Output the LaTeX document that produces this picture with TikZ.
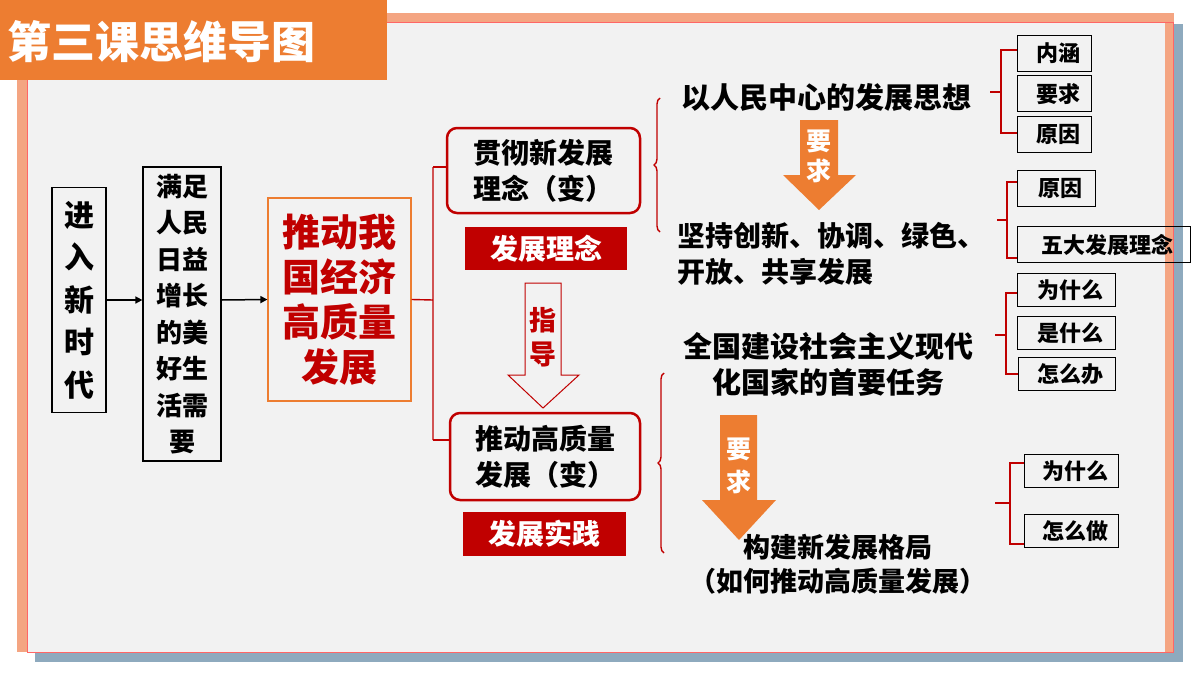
\documentclass[tikz,border=0pt]{standalone}
\usepackage{fontspec}
\setmainfont{Noto Sans CJK SC}
\usetikzlibrary{arrows.meta,decorations.pathreplacing}
\definecolor{org}{HTML}{ED7D31}
\definecolor{dred}{HTML}{C00000}
\definecolor{salm}{HTML}{F4A582}
\definecolor{bgr}{HTML}{F2F2F2}
\definecolor{shad}{HTML}{8EAABE}
\tikzset{
 fs/.style={font=\fontsize{#1}{#1}\selectfont\bfseries},
 blk/.style={draw=black,line width=1.2pt,fill=bgr,inner sep=0pt},
 sbox/.style={draw=black,line width=1.2pt,anchor=north west,inner sep=0pt,fs=22,align=left},
 rbox/.style={draw=dred,line width=2.5pt,rounded corners=10pt,fill=bgr,inner sep=0pt,align=left,font=\fontsize{28}{36}\selectfont\bfseries},
 fillred/.style={fill=dred,text=white,inner sep=0pt,fs=28},
 conn/.style={dred,line width=1.4pt},
 brc/.style={dred,line width=1.4pt,decorate,decoration={brace,amplitude=6pt}},
 blkarr/.style={line width=1.5pt,-{Triangle[length=7pt,width=7pt]}},
}
\begin{document}
\begin{tikzpicture}[x=1pt,y=-1pt]
\useasboundingbox (0,0) rectangle (1200,675);
\fill[white] (0,0) rectangle (1200,675);
% frame
\fill[shad] (35,24) rectangle (1183,662);
\fill[salm] (17,13) rectangle (1174,652);
\fill[bgr] (27,22) rectangle (1165,652);
\draw[red!60,line width=0.6pt] (27,22) -- (1173,22) -- (1173,652) -- (27,652) -- cycle;
% title
\fill[org] (0,0) rectangle (387,80);
\node[fs=44,text=white,anchor=west] (title) at (4,42) {第三课思维导图};
% left boxes
\node[blk,minimum width=54pt,minimum height=225pt,align=center,font=\fontsize{30}{42.5}\selectfont\bfseries] (xin) at (79,300)
 {进\\入\\新\\时\\代};
\node[blk,minimum width=78pt,minimum height=294pt,align=center,font=\fontsize{26}{36.5}\selectfont\bfseries] (mz) at (182,314)
 {满足\\人民\\日益\\增长\\的美\\好生\\活需\\要};
\node[draw=org,line width=1.2pt,fill=bgr,minimum width=143pt,minimum height=203pt,align=center,text=dred,inner sep=0pt,font=\fontsize{38}{45}\selectfont\bfseries] (td) at (339.5,299.5)
 {推动我\\国经济\\高质量\\发展};
\draw[blkarr] (xin.east |- 0,300) -- (mz.west |- 0,300);
\draw[blkarr] (mz.east |- 0,300) -- (td.west);
% middle
\node[rbox,minimum width=193pt,minimum height=85pt] (b1) at (543.5,170.5) {贯彻新发展\\理念（变）};
\node[fillred,minimum width=162pt,minimum height=43pt] (l1) at (546,248.5) {发展理念};
\node[rbox,minimum width=190pt,minimum height=87pt] (b2) at (545,456.5) {推动高质量\\发展（变）};
\node[fillred,minimum width=163pt,minimum height=44pt] (l2) at (544.5,534) {发展实践};
\coordinate (j) at (433,300);
\draw[conn] (td.east) -- (j) (433,167) -- (433,440);
\draw[conn] (433,167) -- (b1.west |- 0,167);
\draw[conn] (433,440) -- (b2.west |- 0,440);
% hollow arrow
\draw[dred,line width=1pt,fill=bgr] (525,283) -- (561,283) -- (561,375) -- (579,375) -- (543,408) -- (508,375) -- (525,375) -- cycle;
\node[text=dred,align=center,font=\fontsize{27}{34}\selectfont\bfseries] (zd) at (543,337) {指\\导};
% braces
\draw[brc] (660,232) -- (660,98);
\draw[brc] (664,553) -- (664,373);
% right texts
\node[fs=29] (t1) at (826,97) {以人民中心的发展思想};
\node[align=left,anchor=west,font=\fontsize{28}{36}\selectfont\bfseries] (t2) at (674,254) {坚持创新、协调、绿色、\\开放、共享发展};
\node[align=center,font=\fontsize{29}{36}\selectfont\bfseries] (t3) at (828,364) {全国建设社会主义现代\\化国家的首要任务};
\node[align=center,font=\fontsize{27}{34}\selectfont\bfseries] (t4) at (838,564) {构建新发展格局\\（如何推动高质量发展）};
% orange arrows
\fill[org] (800,120) -- (838,120) -- (838,175) -- (856,175) -- (819,210) -- (783,175) -- (800,175) -- cycle;
\node[text=white,align=center,font=\fontsize{25}{30}\selectfont\bfseries] (yq1) at (819,156) {要\\求};
\fill[org] (720,415) -- (757,415) -- (757,500) -- (776,500) -- (739,540) -- (702,500) -- (720,500) -- cycle;
\node[text=white,align=center,font=\fontsize{25}{33}\selectfont\bfseries] (yq2) at (739,466) {要\\求};
% small boxes
\node[sbox,minimum width=74pt,minimum height=36pt] (a1) at (1017,35) {\hspace{7pt}内涵};
\node[sbox,minimum width=74pt,minimum height=36pt] (a2) at (1017,75) {\hspace{7pt}要求};
\node[sbox,minimum width=74pt,minimum height=36pt] (a3) at (1017,116) {\hspace{7pt}原因};
\node[sbox,minimum width=78pt,minimum height=36pt] (c1) at (1017,170) {\hspace{7pt}原因};
\node[sbox,minimum width=173pt,minimum height=36pt] (c2) at (1017,226) {\hspace{7pt}五大发展理念};
\node[sbox,minimum width=98pt,minimum height=33pt] (d1) at (1017,273) {\hspace{7pt}为什么};
\node[sbox,minimum width=98pt,minimum height=33pt] (d2) at (1017,316) {\hspace{7pt}是什么};
\node[sbox,minimum width=97pt,minimum height=33pt] (d3) at (1018,357) {\hspace{7pt}怎么办};
\node[sbox,minimum width=94pt,minimum height=33pt] (e1) at (1024,454) {\hspace{7pt}为什么};
\node[sbox,minimum width=94pt,minimum height=33pt] (e2) at (1024,514) {\hspace{7pt}怎么做};
% square brackets
\draw[conn] (990,92) -- (1001,92) (a1.west |- 0,50) -| (1001,133) -- (a3.west |- 0,133);
\draw[conn] (997,220) -- (1007,220) (c1.west |- 0,182) -| (1007,258) -- (c2.west |- 0,258);
\draw[conn] (995,335) -- (1006,335) (d1.west |- 0,293) -| (1006,374) -- (d3.west |- 0,374);
\draw[conn] (995,503) -- (1010,503) (e1.west |- 0,463) -| (1010,544) -- (e2.west |- 0,544);
\end{tikzpicture}
\end{document}
